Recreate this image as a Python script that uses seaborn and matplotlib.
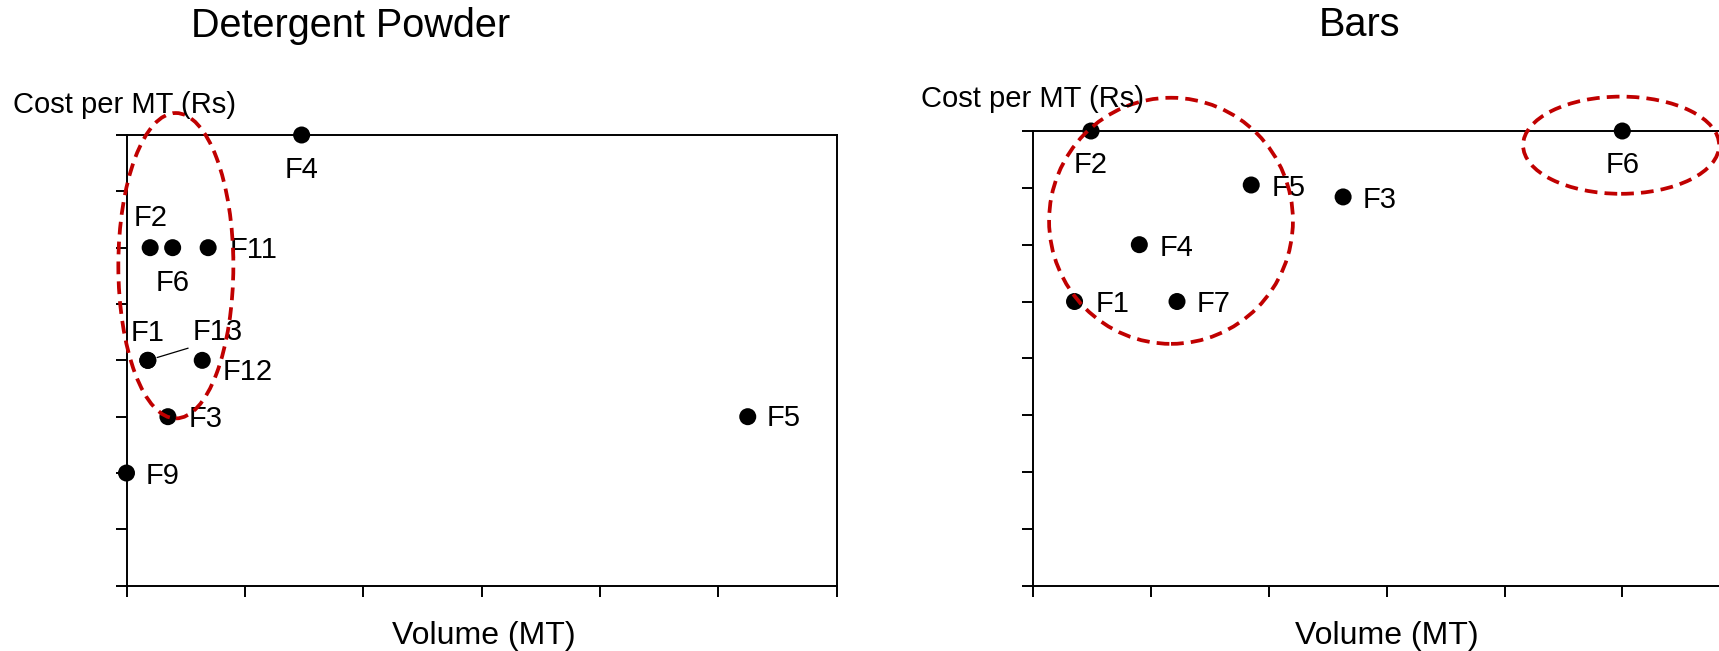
import matplotlib
matplotlib.use("Agg")
import matplotlib.pyplot as plt
from matplotlib.patches import Ellipse
import seaborn as sns
import pandas as pd

# ---------------- data ----------------
det_names = ["F1", "F2", "F3", "F4", "F5", "F6", "F9", "F11", "F12", "F13"]
det_volume = [0.18, 0.20, 0.35, 1.48, 5.25, 0.39, 0.0, 0.69, 0.64, 0.18]
det_cost = [4, 6, 3, 8, 3, 6, 2, 6, 4, 4]

bar_names = ["F1", "F2", "F3", "F4", "F5", "F6", "F7"]
bar_volume = [0.35, 0.49, 2.63, 0.90, 1.85, 5.0, 1.22]
bar_cost = [5, 8, 6.84, 6, 7.05, 8, 5]

titles = ["Detergent Powder", "Bars"]
ylabel = "Cost per MT (Rs)"
xlabel = "Volume (MT)"

# label offsets (pixels) and alignment
det_offsets = {"F1": (0, 27, "center"), "F2": (0, 30, "center"), "F3": (21, -2, "left"),
               "F4": (0, -35, "center"), "F5": (19, -1, "left"), "F6": (0, -35, "center"),
               "F9": (19, -3, "left"), "F11": (21, -2, "left"), "F12": (20, -12, "left")}
bar_offsets = {"F1": (21, -2, "left"), "F2": (0, -34, "center"), "F3": (20, -3, "left"),
               "F4": (20, -3, "left"), "F5": (20, -3, "left"), "F6": (0, -34, "center"),
               "F7": (20, -2, "left")}

sns.set_style("white")
plt.rcParams["font.family"] = ["Liberation Sans", "DejaVu Sans"]
plt.rcParams["text.color"] = "black"

W, H = 1719, 651
fig = plt.figure(figsize=(W / 100, H / 100), dpi=100)

def px_ax(left, top, right, bottom):
    return fig.add_axes([left / W, 1 - bottom / H, (right - left) / W, (bottom - top) / H])

ax1 = px_ax(126.5, 135, 836.5, 585.7)
ax2 = px_ax(1033.3, 131, 1740.1, 585.7)

RED = "#C00000"
LBL = 21
DASH = (0, (3.4, 1.9))
ELW = 2.7

def style(ax, right_spine=True):
    ax.set_xlim(0, 6)
    ax.set_ylim(0, 8)
    ax.set_xticks(range(0, 7))
    ax.set_yticks(range(0, 9))
    ax.set_xticklabels([])
    ax.set_yticklabels([])
    ax.tick_params(axis="both", direction="out", length=8, width=1.4, color="black",
                   left=True, bottom=True)
    for s in ["left", "top", "bottom", "right"]:
        ax.spines[s].set_color("black")
        ax.spines[s].set_linewidth(1.4)
    ax.spines["right"].set_visible(right_spine)
    ax.set_xlabel("")
    ax.set_ylabel("")

df1 = pd.DataFrame({"name": det_names, "vol": det_volume, "cost": det_cost})
sns.scatterplot(data=df1, x="vol", y="cost", ax=ax1, color="black", s=150,
                edgecolor="none", clip_on=False, zorder=5)
style(ax1)
for n, xv, yv in zip(det_names, det_volume, det_cost):
    if n in det_offsets:
        dx, dy, ha = det_offsets[n]
        ax1.annotate(n, (xv, yv), xytext=(dx, dy), textcoords="offset pixels",
                     ha=ha, va="center", fontsize=LBL, color="black", annotation_clip=False)
# F13 with leader line
i13 = det_names.index("F13")
ax1.annotate("F13", (det_volume[i13], det_cost[i13]), xytext=(70, 28),
             textcoords="offset pixels", ha="center", va="center", fontsize=LBL,
             color="black", annotation_clip=False,
             arrowprops=dict(arrowstyle="-", color="black", lw=0.9,
                             shrinkA=1, shrinkB=7, relpos=(0.12, 0.05)))
ax1.add_patch(Ellipse((0.417, 5.68), 0.972, 5.42, fill=False, edgecolor=RED,
                      lw=ELW, linestyle=DASH, clip_on=False, zorder=6))

df2 = pd.DataFrame({"name": bar_names, "vol": bar_volume, "cost": bar_cost})
sns.scatterplot(data=df2, x="vol", y="cost", ax=ax2, color="black", s=150,
                edgecolor="none", clip_on=False, zorder=5)
style(ax2, right_spine=False)
for n, xv, yv in zip(bar_names, bar_volume, bar_cost):
    dx, dy, ha = bar_offsets[n]
    ax2.annotate(n, (xv, yv), xytext=(dx, dy), textcoords="offset pixels",
                 ha=ha, va="center", fontsize=LBL, color="black", annotation_clip=False)
ax2.add_patch(Ellipse((1.169, 6.42), 2.07, 4.33, fill=False, edgecolor=RED,
                      lw=ELW, linestyle=DASH, clip_on=False, zorder=6))
ax2.add_patch(Ellipse((4.99, 7.75), 1.664, 1.71, fill=False, edgecolor=RED,
                      lw=ELW, linestyle=DASH, clip_on=False, zorder=6))

# titles and axis labels
fig.text(351 / W, 1 - 37 / H, titles[0], ha="center", va="baseline", fontsize=28.5)
fig.text(1359.5 / W, 1 - 36 / H, titles[1], ha="center", va="baseline", fontsize=28.5)
fig.text(13 / W, 1 - 113 / H, ylabel, ha="left", va="baseline", fontsize=21)
fig.text(921 / W, 1 - 107 / H, ylabel, ha="left", va="baseline", fontsize=21)
fig.text(483.5 / W, 1 - 644 / H, xlabel, ha="center", va="baseline", fontsize=23)
fig.text(1387 / W, 1 - 644 / H, xlabel, ha="center", va="baseline", fontsize=23)

fig.savefig("out.png", dpi=100)
